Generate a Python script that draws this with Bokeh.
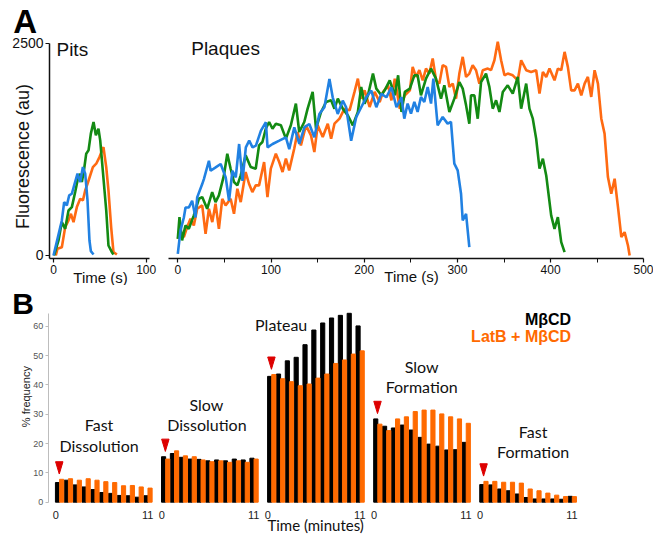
import math
from bokeh.plotting import figure
from bokeh.layouts import column, row
from bokeh.models import Range1d, FixedTicker, Label
from bokeh.embed import file_html
from bokeh.resources import INLINE

# ---------------- Panel A data (time s, fluorescence au) ----------------
pits_blue_t = [0, 9.0, 11.5, 14.4, 16.9, 19.8, 22.3, 25.9, 28.8, 31.7, 34.2, 36.7, 38.8, 40.3, 43.2]
pits_blue_v = [0, 413, 629, 590, 707, 727, 825, 963, 865, 1041, 963, 648, 177, 51, 12]

pits_green_t = [0.6, 5.4, 9.0, 12.6, 16.2, 19.8, 23.4, 25.9, 28.8, 30.6, 33.1, 35.3, 37.8, 40.3, 43.2,
                45.7, 48.5, 50.4, 56.9, 59.3, 63.0, 64.7]
pits_green_v = [0, 177, 393, 314, 530, 570, 747, 884, 963, 865, 1022, 1199, 1238, 1435, 1572,
                1415, 1493, 1356, 530, 118, 39, 12]

pits_orange_t = [2.5, 4.3, 9.0, 12.6, 16.2, 18.8, 21.6, 25.2, 28.8, 31.7, 34.2, 36.7, 42.5, 46.1,
                 49.6, 53.9, 56.9, 59.3, 62.2, 64.7, 68.4]
pits_orange_v = [0, 79, 98, 334, 413, 491, 393, 570, 668, 648, 766, 845, 1041, 1081,
                 1159, 1277, 1041, 766, 334, 39, 12]

plq_blue_t = [0, 2.9, 6.5, 8.3, 11.9, 15.4, 19, 20.8, 26.2, 28, 33.4, 35.2, 40.6, 46, 51.4, 55, 58.6,
              62.2, 65.8, 69.4, 73, 76.6, 80.2, 83.8, 89.2, 94.5, 96.3, 101.7, 108.9, 116, 119.6, 125,
              130.4, 135.8, 141.1, 146.5, 151.9, 157.3, 162.7, 166.2, 171.6, 177, 180.6, 186, 191.4,
              196.8, 202.2, 207.6, 213, 218.4, 223.8, 229.2, 234.6, 240, 243, 246.6, 250.2, 253.8,
              257.3, 260.9, 264.5, 268.1, 271.7, 274.2, 278.8, 284.2, 289.5, 293.1, 296.7, 300.3,
              303.9, 305.7, 309.3, 312.8]
plq_blue_v = [20, 295, 448, 566, 566, 645, 448, 684, 841, 900, 1116, 998, 1037, 1077, 920, 645, 998,
              920, 1313, 880, 1273, 1352, 1273, 1293, 1470, 1569, 1273, 1313, 1352, 1392, 1253, 1509,
              1313, 1509, 1549, 1392, 1667, 1746, 2080, 1863, 1667, 1824, 1746, 1352, 1628,
              1746, 1863, 1942, 1746, 1903, 1863, 1981, 1746, 1863, 1612, 1789, 1671, 1808,
              1691, 1867, 1808, 1985, 1789, 2083, 1533, 1632, 1553, 1573, 1081, 1002,
              727, 412, 491, 98]

plq_green_t = [0, 1.8, 4.6, 8.2, 11.8, 17.2, 22.6, 26.2, 31.5, 36.9, 40.5, 44.1, 49.5, 53.1, 56.7,
               60.3, 63.9, 67.5, 72.8, 78.2, 83.6, 87.2, 90.8, 94.4, 98, 101.6, 105.2, 110.6, 116,
               121.3, 126.7, 130.3, 135.7, 139.3, 144.7, 148.3, 153.7, 159.1, 164.5, 168.1, 171.7,
               177, 182.4, 187.8, 193.2, 196.8, 200.4, 204, 209.4, 213, 218.4, 222, 227.4, 232.8,
               236.4, 240, 243.6, 249, 253.8, 257.3, 260.9, 266.3, 271.7, 277, 282.4, 286, 291.4,
               296.7, 302.1, 305.7, 309.3, 312.8, 314.6, 318.2, 321.8, 325.4, 330.7, 334.3, 337.9,
               341.5, 345.1, 348.7, 354, 359.4, 364.8, 368.4, 373.8, 377.3, 380.9, 384.5, 388.1,
               391.7, 395.3, 400.6, 404.2, 407.8, 411.4, 415]
plq_green_v = [196, 452, 177, 354, 314, 472, 668, 688, 550, 747, 629, 708, 943, 1199, 1022,
               865, 826, 943, 1179, 1041, 1022, 1297, 1336, 1493, 1572, 1493, 1552, 1533, 1376,
               1533, 1788, 1454, 1572, 1729, 1926, 1493, 1690, 1808, 1827, 1729, 1847,
               1729, 1650, 1533, 1690, 1985, 1788, 1886, 2142, 1965, 1886, 1945, 2063, 1886,
               2122, 1690, 1926, 1965, 2122, 2122, 1886, 2083, 2201, 2083, 1847, 2004, 1690,
               1847, 2043, 1965, 1768, 1552, 1886, 1886, 1611, 2043, 2142, 1985, 1729,
               1827, 1690, 1926, 2004, 1906, 2102, 1729, 2024, 1729, 1611, 1376, 1022,
               1140, 943, 472, 314, 452, 157, 39]

plq_orange_t = [0, 2.9, 6.5, 10, 13.6, 17.2, 20.8, 26.2, 29.8, 33.4, 37, 40.5, 44.1, 47.7, 51.3,
                56.7, 60.3, 63.9, 67.5, 72.8, 76.4, 80, 83.6, 87.2, 92.6, 96.2, 99.8, 105.2, 108.8,
                112.4, 116, 119.5, 124.9, 128.5, 132.1, 137.5, 142.9, 146.5, 150.1, 155.5, 160.9,
                164.5, 168.1, 173.5, 178.9, 184.3, 189.6, 193.2, 196.8, 200.4, 205.8, 211.2, 216.6,
                220.2, 225.6, 229.2, 232.8, 238.2, 243.6, 249, 252, 255.6, 259.2, 262.8, 266.3,
                269.9, 273.5, 277.1, 280.6, 284.2, 287.8, 291.4, 295, 298.5, 302.1, 305.7, 309.3,
                312.8, 316.4, 320, 323.6, 327.2, 332.6, 336.1, 339.7, 343.3, 346.9, 350.5, 354,
                359.4, 364.8, 368.4, 373.8, 379.1, 384.5, 388.1, 391.7, 395.3, 398.8, 404.2, 407.8,
                411.4, 415, 418.5, 422.1, 425.7, 429.3, 432.9, 436.5, 440, 443.6, 447.2, 450.8,
                454.4, 457.9, 461.5, 465.1, 468.7, 472.3, 475.9, 479.4, 483, 484.8]
plq_orange_v = [196, 275, 216, 334, 432, 354, 550, 590, 255, 550, 393, 609, 314, 668, 590,
                668, 491, 786, 629, 983, 845, 747, 826, 826, 1101, 688, 1022, 1199, 1101,
                983, 1140, 1002, 1258, 1454, 1297, 1533, 1415, 1218, 1533, 1395, 1552,
                1376, 1552, 1611, 1729, 1709, 1926, 2083, 1847, 1945, 1749, 1926, 1808,
                1926, 2004, 1827, 2083, 1729, 1886, 1945, 2221, 2103, 2182, 2063, 2201,
                2142, 2319, 2063, 2024, 2241, 2221, 1985, 2024, 1847, 2142, 2339, 2103,
                2142, 2241, 2182, 2024, 2182, 2201, 2182, 2299, 2516, 2299, 2122, 2142,
                2122, 2063, 2299, 2182, 2162, 2182, 1906, 2162, 2103, 2201, 2063, 2201,
                2182, 2398, 2221, 1945, 1945, 2024, 1886, 2024, 2103, 1867, 2182, 2024,
                1611, 1435, 924, 727, 904, 570, 216, 275, 118, 0]

# ---------------- Panel B data (% frequency per minute 0..11) ----------------
group_names = ["Fast Dissolution", "Slow Dissolution", "Plateau", "Slow Formation", "Fast Formation"]
mbcd_fast_dissolution = [6.7, 7.5, 5.9, 5.2, 4.3, 3.3, 3.0, 2.3, 2.2, 1.7, 2.2]
latb_fast_dissolution = [7.8, 8.0, 7.5, 8.0, 7.5, 7.0, 6.7, 5.6, 5.7, 5.2, 4.8]
mbcd_slow_dissolution = [15.5, 16.6, 15.3, 14.7, 14.6, 14.1, 14.4, 14.1, 14.7, 14.4, 15.0]
latb_slow_dissolution = [14.7, 17.5, 15.8, 15.5, 14.4, 13.8, 14.1, 13.6, 14.1, 13.6, 14.7]
mbcd_plateau = [42.9, 43.7, 48.2, 49.4, 53.7, 58.7, 61.1, 62.8, 63.7, 64.4, 60.1]
latb_plateau = [43.5, 42.1, 41.1, 39.7, 40.3, 42.3, 43.7, 47.3, 48.5, 50.5, 51.6]
mbcd_slow_formation = [28.4, 25.9, 25.3, 26.3, 24.6, 22.1, 19.8, 19.1, 17.8, 17.9, 20.4]
latb_slow_formation = [26.6, 24.4, 28.4, 29.1, 30.9, 31.4, 31.4, 30.1, 29.1, 28.4, 26.9]
mbcd_fast_formation = [6.0, 5.9, 4.5, 3.9, 2.8, 1.6, 1.1, 1.1, 1.1, 1.0, 2.0]
latb_fast_formation = [7.1, 7.1, 6.8, 6.8, 6.5, 4.5, 3.9, 3.1, 2.4, 1.9, 1.9]
bar_tick_labels = ["0", "11"]
y_ticks_b = [0, 10, 20, 30, 40, 50, 60]

mbcd_groups = [mbcd_fast_dissolution, mbcd_slow_dissolution, mbcd_plateau,
               mbcd_slow_formation, mbcd_fast_formation]
latb_groups = [latb_fast_dissolution, latb_slow_dissolution, latb_plateau,
               latb_slow_formation, latb_fast_formation]

SANS = "Liberation Sans"
CAL = "Lato"
BLUE = "#2181E2"
GREEN = "#138A13"
ORANGE_L = "#FF6A12"
ORANGE_B = "#FF6A00"
RED = "#DD0000"
INK = "#111111"


def make_fig(w, h, xr, yr):
    p = figure(width=w, height=h, x_range=Range1d(*xr), y_range=Range1d(*yr),
               output_backend="svg", toolbar_location=None,
               min_border_left=0, min_border_right=0, min_border_top=0, min_border_bottom=0)
    p.grid.visible = False
    p.outline_line_color = None
    p.background_fill_color = "white"
    p.border_fill_color = "white"
    return p


def style_axis(ax, size="12px"):
    ax.axis_line_color = INK
    ax.axis_line_width = 1.5
    ax.major_tick_line_color = INK
    ax.major_tick_line_width = 1.2
    ax.minor_tick_line_color = INK
    ax.major_tick_in = 0
    ax.major_tick_out = 4
    ax.minor_tick_in = 0
    ax.minor_tick_out = 4
    ax.major_label_text_font = SANS
    ax.major_label_text_font_size = size
    ax.major_label_text_color = INK


def add_text(p, txt, x, y, size, font=SANS, align="center", bold=False, angle=0.0, color=INK):
    p.add_layout(Label(x=x, y=y, text=txt, text_font=font, text_font_size=size,
                       text_font_style="bold" if bold else "normal", angle=angle,
                       text_align=align, text_baseline="middle", text_color=color))


Y_A = (-353.3, 3002.8)

# ---------------- Pits ----------------
pits = make_fig(160, 285, (-57.19, 115.45), Y_A)
style_axis(pits.xaxis[0])
style_axis(pits.yaxis[0], "14px")
pits.xaxis.ticker = FixedTicker(ticks=[0, 100])
pits.yaxis.ticker = FixedTicker(ticks=[0, 2500])
pits.xaxis.fixed_location = -35
pits.yaxis.fixed_location = -4.3
pits.xaxis.bounds = (-4.3, 103.6)
pits.yaxis.bounds = (-35, 2500)
pits.xaxis.major_label_standoff = 3
pits.yaxis.major_label_standoff = 2
pits.line(pits_orange_t, pits_orange_v, line_width=2.6, color=ORANGE_L)
pits.line(pits_green_t, pits_green_v, line_width=2.6, color=GREEN)
pits.line(pits_blue_t, pits_blue_v, line_width=2.6, color=BLUE)
add_text(pits, "Pits", 3.2, 2420, "19px", align="left")
add_text(pits, "Time (s)", 50.7, -255, "15px")
add_text(pits, "Fluorescence (au)", -32.4, 1166, "18px", angle=math.pi / 2)
add_text(pits, "A", -43.5, 2755, "33px", align="left", bold=True, color="#000000")

# ---------------- Plaques ----------------
plq = make_fig(493, 285, (-18.56, 510.4), Y_A)
style_axis(plq.xaxis[0])
plq.yaxis.visible = False
plq.xaxis.ticker = FixedTicker(ticks=[0, 100, 200, 300, 400, 500],
                               minor_ticks=[50, 150, 250, 350, 450])
plq.xaxis.fixed_location = -35
plq.xaxis.bounds = (-10, 500)
plq.xaxis.major_label_standoff = 3
plq.line(plq_orange_t, plq_orange_v, line_width=2.6, color=ORANGE_L)
plq.line(plq_green_t, plq_green_v, line_width=2.6, color=GREEN)
plq.line(plq_blue_t, plq_blue_v, line_width=2.6, color=BLUE)
add_text(plq, "Plaques", 14.4, 2432, "19px", align="left")
add_text(plq, "Time (s)", 250.8, -252, "15px")

# ---------------- Panel B ----------------
pb = make_fig(653, 252, (-6.448, 67.42), (-12.04, 73.88))

GROUP_STEP = 12
BW = 0.47
bx, btop, ox, otop = [], [], [], []
tri_xs, tri_ys = [], []
ticks, overrides = [], {}
for g, (mb, lb) in enumerate(zip(mbcd_groups, latb_groups)):
    base = GROUP_STEP * g
    for i, (vb, vo) in enumerate(zip(mb, lb)):
        bx.append(base + i)
        btop.append(vb)
        ox.append(base + i + BW)
        otop.append(vo)
    tip = max(mb[0], lb[0]) + 1.8
    xc = base + 0.2
    tri_xs.append([xc - 0.42, xc + 0.42, xc])
    tri_ys.append([tip + 4.2, tip + 4.2, tip])
    t0 = round(base - 0.2, 3)
    t1 = round(base + len(mb) - 1 + 0.2, 3)
    ticks += [t0, t1]
    overrides[t0] = bar_tick_labels[0]
    overrides[t1] = bar_tick_labels[1]

pb.vbar(x=bx, top=btop, bottom=0, width=BW, color="#000000")
pb.vbar(x=ox, top=otop, bottom=0, width=BW, color=ORANGE_B)
pb.patches(tri_xs, tri_ys, color=RED)

xa = pb.xaxis[0]
xa.ticker = FixedTicker(ticks=ticks)
xa.major_label_overrides = overrides
xa.fixed_location = 0
xa.axis_line_color = None
xa.major_tick_line_color = None
xa.minor_tick_line_color = None
xa.major_label_standoff = 3
xa.major_label_text_font = SANS
xa.major_label_text_font_size = "11px"
xa.major_label_text_color = "#222222"

ya = pb.yaxis[0]
ya.ticker = FixedTicker(ticks=y_ticks_b)
ya.fixed_location = -1.052
ya.bounds = (0, 64.3)
ya.axis_line_color = "#BDBDBD"
ya.major_tick_line_color = "#BDBDBD"
ya.minor_tick_line_color = None
ya.major_tick_in = 0
ya.major_tick_out = 3
ya.major_label_standoff = 2
ya.major_label_text_font = SANS
ya.major_label_text_font_size = "9px"
ya.major_label_text_color = "#555555"

titles = [("Fast", 4.7, 26.5), ("Dissolution", 4.7, 19.3),
          ("Slow", 16.85, 33.3), ("Dissolution", 16.9, 26.5),
          ("Plateau", 25.3, 60.6),
          ("Slow", 41.2, 46.3), ("Formation", 41.2, 39.3),
          ("Fast", 53.8, 24.1), ("Formation", 53.8, 17.3)]
for txt, x, y in titles:
    add_text(pb, txt, x, y, "16px", font=CAL)

add_text(pb, "MβCD", 58.1, 62.3, "16px", align="right", bold=True, color="#000000")
add_text(pb, "LatB + MβCD", 58.1, 56.5, "16px", align="right", bold=True, color=ORANGE_B)
add_text(pb, "Time (minutes)", 29.2, -7.9, "15px", font=CAL)
add_text(pb, "% frequency", -3.51, 36.0, "11px", angle=math.pi / 2, color="#222222")
add_text(pb, "B", -5.12, 67.6, "30px", align="left", bold=True, color="#000000")

layout = column(row(pits, plq), pb)
open("out.html", "w").write(file_html(layout, INLINE))
